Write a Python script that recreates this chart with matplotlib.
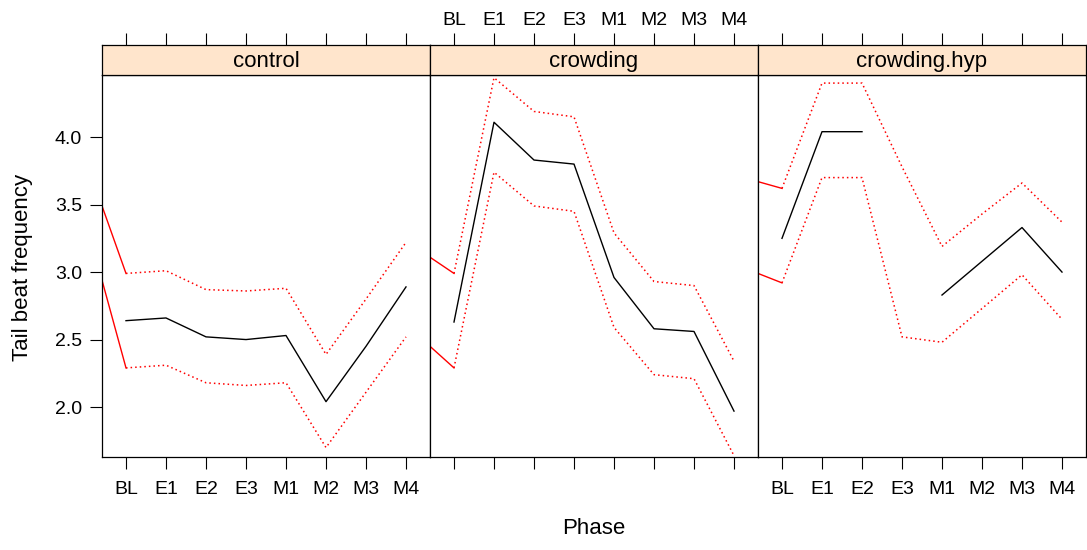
import numpy as np
import matplotlib
matplotlib.use("Agg")
import matplotlib.pyplot as plt

phases = ["BL", "E1", "E2", "E3", "M1", "M2", "M3", "M4"]
groups = ["control", "crowding", "crowding.hyp"]

# mean tail beat frequency per phase (nan = missing)
mean_control = [2.64, 2.66, 2.52, 2.50, 2.53, 2.04, 2.45, 2.89]
mean_crowding = [2.63, 4.11, 3.83, 3.80, 2.96, 2.58, 2.56, 1.97]
mean_hyp = [3.25, 4.04, 4.04, np.nan, 2.83, 3.08, 3.33, 3.00]

# upper / lower bands (dotted)
upper_control = [2.99, 3.01, 2.87, 2.86, 2.88, 2.39, 2.80, 3.22]
lower_control = [2.29, 2.31, 2.18, 2.16, 2.18, 1.70, 2.11, 2.52]
upper_crowding = [2.99, 4.44, 4.19, 4.15, 3.29, 2.93, 2.90, 2.34]
lower_crowding = [2.29, 3.74, 3.49, 3.45, 2.59, 2.24, 2.21, 1.64]
upper_hyp = [3.62, 4.40, 4.40, 3.78, 3.19, 3.43, 3.66, 3.37]
lower_hyp = [2.92, 3.70, 3.70, 2.52, 2.48, 2.73, 2.98, 2.65]

# solid red stubs entering each panel from the left edge
stub_upper = [3.49, 3.11, 3.67]
stub_lower = [2.94, 2.45, 2.99]

means = [mean_control, mean_crowding, mean_hyp]
uppers = [upper_control, upper_crowding, upper_hyp]
lowers = [lower_control, lower_crowding, lower_hyp]

W, H = 1087, 550
fig = plt.figure(figsize=(W / 100, H / 100), dpi=100)
plt.rcParams['font.family'] = ['Liberation Sans', 'DejaVu Sans']

x = np.arange(1, 9)
xlim = (0.4, 8.6)
ylim = (1.63, 4.46)
edges = [102, 430, 758, 1086]
ptop, pbot = 75, 457
stop = 45
tl = 8.5
fs_tick = 14
fs_lab = 16

for i, g in enumerate(groups):
    left = edges[i] / W
    width = (edges[i + 1] - edges[i]) / W
    ax = fig.add_axes([left, (H - pbot) / H, width, (pbot - ptop) / H])
    ax.plot(x, means[i], color='black', lw=1)
    ax.plot(x, uppers[i], color='red', lw=1.1, ls=(0, (1, 2)))
    ax.plot(x, lowers[i], color='red', lw=1.1, ls=(0, (1, 2)))
    ax.plot([xlim[0], 1], [stub_upper[i], uppers[i][0]], color='red', lw=1)
    ax.plot([xlim[0], 1], [stub_lower[i], lowers[i][0]], color='red', lw=1)
    ax.set_xlim(*xlim)
    ax.set_ylim(*ylim)
    ax.set_xticks(x)
    if i != 1:
        ax.set_xticklabels(phases)
    else:
        ax.set_xticklabels([])
    ax.tick_params(axis='x', direction='out', length=tl, pad=9, labelsize=fs_tick)
    ax.set_yticks([2.0, 2.5, 3.0, 3.5, 4.0])
    if i == 0:
        ax.tick_params(axis='y', direction='out', length=tl, pad=6, labelsize=fs_tick)
    elif i == 2:
        ax.tick_params(axis='y', left=False, right=True, labelleft=False,
                       direction='out', length=tl)
    else:
        ax.tick_params(axis='y', left=False, labelleft=False)
    for s in ax.spines.values():
        s.set_linewidth(0.9)

    sax = fig.add_axes([left, (H - ptop) / H, width, (ptop - stop) / H])
    sax.set_facecolor('#ffe5cc')
    sax.set_xlim(*xlim)
    sax.set_ylim(0, 1)
    sax.set_yticks([])
    sax.set_xticks(x)
    sax.xaxis.tick_top()
    if i == 1:
        sax.set_xticklabels(phases)
    else:
        sax.set_xticklabels([])
    sax.tick_params(axis='x', direction='out', length=tl, pad=3, labelsize=fs_tick)
    sax.text(4.5, 0.45, g, ha='center', va='center', fontsize=fs_lab)
    for s in sax.spines.values():
        s.set_linewidth(0.9)

fig.text(23 / W, 1 - 267 / H, 'Tail beat frequency', rotation=90,
         ha='center', va='center', fontsize=fs_lab)
fig.text(594 / W, 1 - 528 / H, 'Phase', ha='center', va='center', fontsize=fs_lab)

fig.savefig('out.png', dpi=100)
